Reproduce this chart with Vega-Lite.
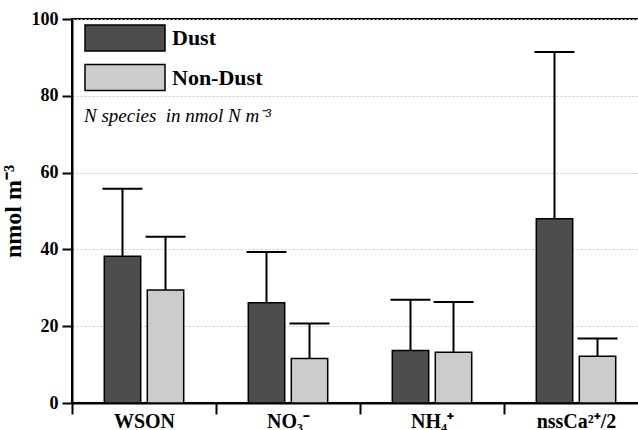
{
  "$schema": "https://vega.github.io/schema/vega-lite/v6.json",
  "autosize": {"type": "none"},
  "padding": {"left": 72, "top": 19, "right": 0, "bottom": 27},
  "width": 576,
  "height": 384,
  "background": "white",
  "config": {
    "view": {"stroke": "black", "strokeWidth": 2},
    "font": "Liberation Serif"
  },
  "data": {
    "values": [
      {"cat": "WSON", "group": "Dust", "value": 38.2, "upper": 55.8},
      {"cat": "WSON", "group": "Non-Dust", "value": 29.4, "upper": 43.3},
      {"cat": "NO₃⁻", "group": "Dust", "value": 26.1, "upper": 39.3},
      {"cat": "NO₃⁻", "group": "Non-Dust", "value": 11.6, "upper": 20.7},
      {"cat": "NH₄⁺", "group": "Dust", "value": 13.7, "upper": 26.9},
      {"cat": "NH₄⁺", "group": "Non-Dust", "value": 13.2, "upper": 26.3},
      {"cat": "nssCa²⁺/2", "group": "Dust", "value": 48.0, "upper": 91.4},
      {"cat": "nssCa²⁺/2", "group": "Non-Dust", "value": 12.2, "upper": 16.8}
    ]
  },
  "encoding": {
    "x": {
      "field": "cat", "type": "nominal",
      "sort": ["WSON", "NO₃⁻", "NH₄⁺", "nssCa²⁺/2"],
      "scale": {"paddingInner": 0, "paddingOuter": 0},
      "axis": {
        "title": null, "labelAngle": 0, "tickBand": "extent",
        "domainColor": "black", "domainWidth": 2,
        "tickColor": "black", "tickWidth": 2, "tickSize": 11,
        "labelFont": "Liberation Serif", "labelFontWeight": "bold", "labelFontSize": 20,
        "labelColor": "black", "labelPadding": -3, "labelDx": 4
      }
    },
    "xOffset": {
      "field": "group", "type": "nominal", "sort": ["Dust", "Non-Dust"],
      "scale": {"paddingInner": 0.1535, "paddingOuter": 0.751}
    }
  },
  "layer": [
    {
      "mark": {"type": "rule", "color": "black", "strokeWidth": 2},
      "encoding": {
        "y": {"field": "value", "type": "quantitative"},
        "y2": {"field": "upper"}
      }
    },
    {
      "mark": {"type": "bar", "stroke": "black", "strokeWidth": 1.5, "opacity": 1},
      "encoding": {
        "y": {
          "field": "value", "type": "quantitative",
          "scale": {"domain": [0, 100], "nice": false},
          "axis": {
            "title": "nmol m⁻³",
            "titleFont": "Liberation Serif", "titleFontWeight": "bold", "titleFontSize": 24,
            "titleColor": "black", "titlePadding": 6,
            "values": [0, 10, 20, 30, 40, 50, 60, 70, 80, 90, 100],
            "labelExpr": "datum.value % 20 === 0 ? datum.label : ''",
            "labelFont": "Liberation Serif", "labelFontWeight": "bold", "labelFontSize": 18,
            "labelColor": "black", "labelPadding": 4,
            "domainColor": "black", "domainWidth": 2,
            "tickColor": "black", "tickWidth": 2,
            "tickSize": {"condition": {"test": "datum.value % 20 === 0", "value": 10}, "value": 5},
            "grid": true, "gridColor": "#c8c8c8", "gridDash": [2, 2], "gridWidth": 1
          }
        },
        "fill": {
          "field": "group", "type": "nominal",
          "scale": {"domain": ["Dust", "Non-Dust"], "range": ["#4d4d4d", "#cccccc"]},
          "legend": {
            "orient": "none", "legendX": 12, "legendY": 5,
            "title": "N species\u00a0 in nmol N m⁻³",
            "titleOrient": "bottom", "titleFont": "Liberation Serif", "titleFontStyle": "italic",
            "titleFontWeight": "normal", "titleFontSize": 19, "titleColor": "black",
            "titlePadding": 13, "titleLimit": 400,
            "symbolType": "M-1,-1H5.154V1H-1Z", "symbolSize": 676,
            "symbolStrokeColor": "black", "symbolStrokeWidth": 1.5, "symbolOpacity": 1,
            "labelFont": "Liberation Serif", "labelFontWeight": "bold", "labelFontSize": 22,
            "labelColor": "black", "labelOffset": 60, "rowPadding": 7.5, "padding": 0
          }
        }
      }
    },
    {
      "mark": {"type": "tick", "color": "black", "thickness": 2, "size": 40, "opacity": 1},
      "encoding": {
        "y": {"field": "upper", "type": "quantitative"}
      }
    }
  ]
}
